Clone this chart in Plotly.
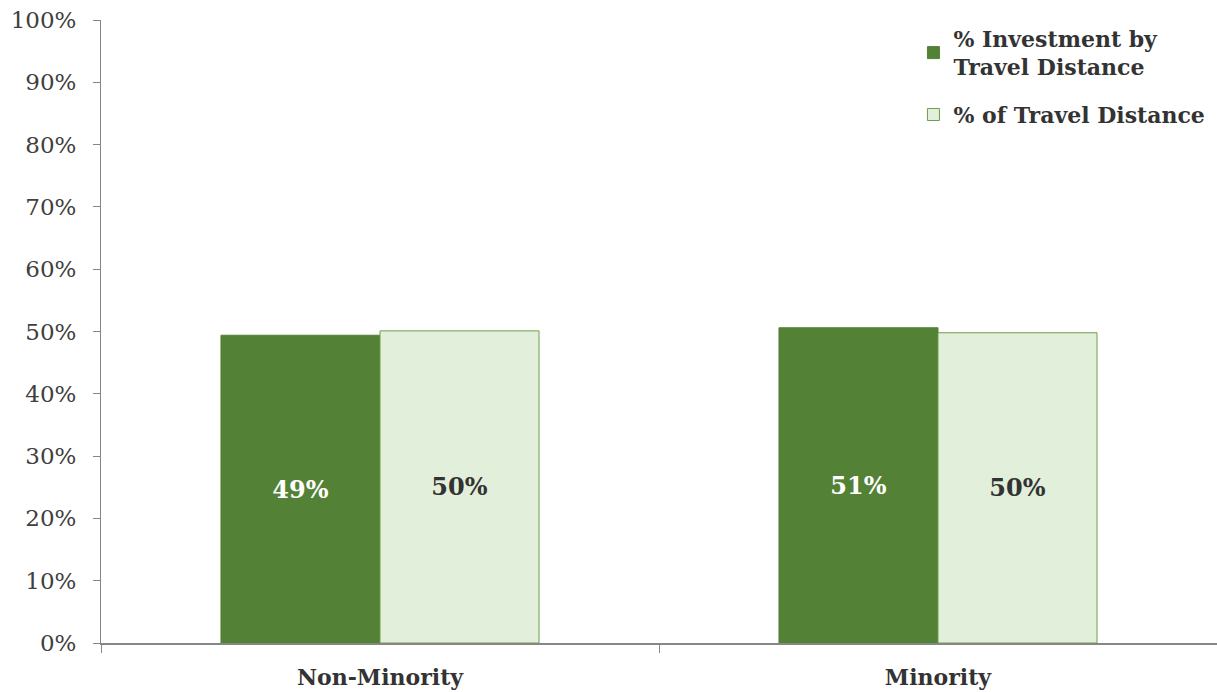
import plotly.graph_objects as go

categories = ["Non-Minority", "Minority"]
investment = [49.4, 50.6]
travel = [50.1, 49.8]
invest_labels = ["49%", "51%"]
travel_labels = ["50%", "50%"]
y_ticks = [0, 10, 20, 30, 40, 50, 60, 70, 80, 90, 100]
y_tick_text = [f"{v}%" for v in y_ticks]

FONT = "DejaVu Serif"

fig = go.Figure()
fig.add_trace(go.Bar(
    x=categories, y=investment, name="<b>% Investment by<br>Travel Distance</b>",
    legendgroup="a",
    marker=dict(color="#538135", line=dict(color="#538135", width=1)),
    text=[f"<b>{t}</b>" for t in invest_labels], textposition="inside",
    insidetextanchor="middle", textangle=0,
    textfont=dict(family=FONT, size=24, color="white"),
))
fig.add_trace(go.Bar(
    x=categories, y=travel, name="<b>% of Travel Distance</b>",
    legendgroup="b",
    marker=dict(color="#E2EFDA", line=dict(color="#6E9E4A", width=1)),
    text=[f"<b>{t}</b>" for t in travel_labels], textposition="inside",
    insidetextanchor="middle", textangle=0,
    textfont=dict(family=FONT, size=24, color="#333333"),
))

fig.update_layout(
    width=1217, height=692,
    margin=dict(l=101, r=0, t=20, b=49),
    paper_bgcolor="white", plot_bgcolor="white",
    barmode="group", bargap=0.43, bargroupgap=0,
    font=dict(family=FONT, color="#404040"),
    showlegend=True,
    legend=dict(
        x=0.728, xanchor="left", y=1.004, yanchor="top",
        font=dict(family=FONT, size=22, color="#333333"),
        tracegroupgap=16, itemwidth=30, bgcolor="rgba(0,0,0,0)",
    ),
)
fig.update_xaxes(
    showline=True, linecolor="#868686", linewidth=1.5,
    ticks="outside", tickson="boundaries", ticklen=8, tickcolor="#868686",
    tickfont=dict(family=FONT, size=22, color="#333333"),
    tickvals=categories, ticktext=[f"<b>{c}</b>" for c in categories],
    ticklabelstandoff=14,
    showgrid=False,
)
fig.update_yaxes(
    range=[0, 100], tickvals=y_ticks, ticktext=y_tick_text,
    showline=True, linecolor="#868686", linewidth=1,
    ticks="outside", ticklen=7, tickcolor="#868686",
    tickfont=dict(family=FONT, size=23, color="#404040"),
    ticklabelstandoff=12,
    showgrid=False, zeroline=False,
)

fig.write_html(
    "out.html",
    config={"displayModeBar": False},
    post_script="document.body.style.margin='0';document.body.style.overflow='hidden';",
)
